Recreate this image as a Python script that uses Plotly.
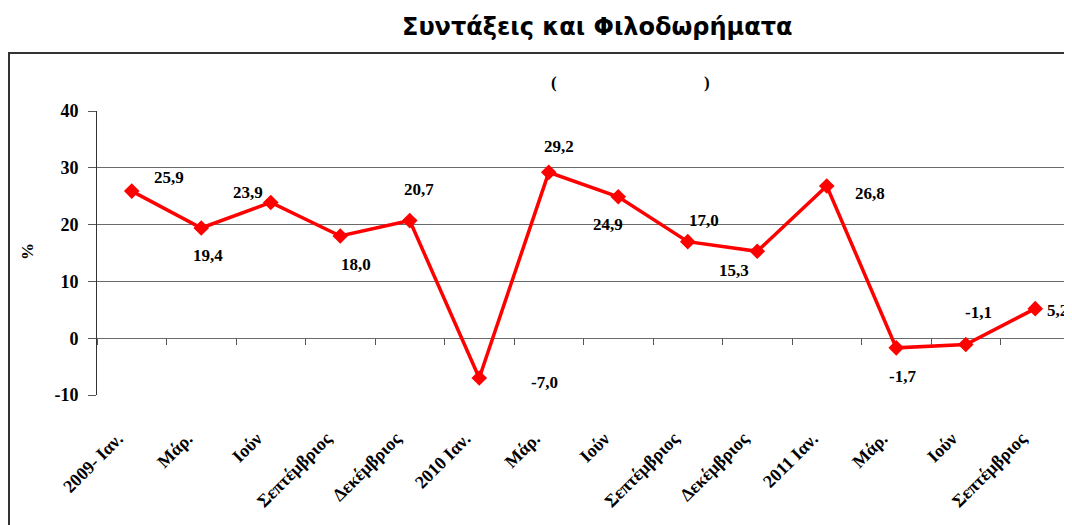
import plotly.graph_objects as go

categories = ["2009- Ιαν.", "Μάρ.", "Ιούν", "Σεπτέμβριος", "Δεκέμβριος",
              "2010 Ιαν.", "Μάρ.", "Ιούν", "Σεπτέμβριος", "Δεκέμβριος",
              "2011 Ιαν.", "Μάρ.", "Ιούν", "Σεπτέμβριος"]
values = [25.9, 19.4, 23.9, 18.0, 20.7, -7.0, 29.2, 24.9, 17.0, 15.3, 26.8, -1.7, -1.1, 5.2]
y_ticks = [-10, 0, 10, 20, 30, 40]
y_tick_text = ["-10", "0", "10", "20", "30", "40"]
title_text = "Συντάξεις και Φιλοδωρήματα"
y_title = "%"

# label offsets (pixel styling)
label_dx = [37, 7, -23, 16, 9, 65, 10, -10, 16, -23, 43, 6, 13, 22]
label_dy = [-14, 27, -10, 29, -31, 5, -26, 28, -21, 19, 8, 29, -32, 2]

idx = list(range(len(values)))
OFF = 8  # page body margin
W, H = 1072 - OFF, 525 - OFF
L, T = 97 - OFF, 111 - OFF
R = 1072 - 1070
B = 525 - 395
pw, ph = W - L - R, H - T - B

serif = "Liberation Serif"
n = len(categories)
lab_shift = 0.2  # category-label offset (styling)


def px_x(px):
    return (px - OFF - L) / pw


def px_y(py):
    return (H - B - (py - OFF)) / ph


fig = go.Figure()
fig.add_trace(go.Scatter(
    x=idx, y=values, mode="lines+markers",
    line=dict(color="#ff0000", width=3.5),
    marker=dict(symbol="diamond", size=12, color="#ff0000"),
    showlegend=False, hoverinfo="skip",
))
fig.add_trace(go.Scatter(x=[idx[0]], y=[values[0]], xaxis="x2", mode="markers",
                         marker=dict(opacity=0), showlegend=False, hoverinfo="skip"))
fig.add_trace(go.Scatter(x=[idx[0]], y=[values[0]], xaxis="x3", mode="markers",
                         marker=dict(opacity=0), showlegend=False, hoverinfo="skip"))

for i, v in enumerate(values):
    fig.add_annotation(x=i, y=v, text=f"{v:.1f}".replace(".", ","), showarrow=False,
                       xshift=label_dx[i], yshift=-label_dy[i],
                       font=dict(family=serif, size=17, color="black", weight="bold"))

fig.update_layout(
    width=W, height=H,
    margin=dict(l=L, r=R, t=T, b=B, autoexpand=False),
    paper_bgcolor="white", plot_bgcolor="white",
    xaxis=dict(
        range=[-0.5, n - 0.5], showticklabels=False, ticks="",
        showgrid=False, zeroline=False, showline=False,
    ),
    xaxis3=dict(
        overlaying="x", anchor="y", side="bottom",
        range=[-0.5 + lab_shift, n - 0.5 + lab_shift],
        tickmode="array", tickvals=idx, ticktext=categories,
        tickangle=-45, ticks="outside", ticklen=25, tickcolor="rgba(0,0,0,0)",
        showgrid=False, zeroline=False, showline=False,
        tickfont=dict(family=serif, size=18, color="black", weight="bold"),
    ),
    xaxis2=dict(
        overlaying="x", anchor="free", position=10 / 50, range=[-0.5, n - 0.5],
        tickmode="linear", tick0=0.5, dtick=1, ticks="outside", ticklen=6,
        tickcolor="#555", tickwidth=1, showticklabels=False, showgrid=False,
        zeroline=False, showline=False,
    ),
    yaxis=dict(
        range=[-10, 40], tickvals=y_ticks, ticktext=y_tick_text, ticks="outside", ticklen=8,
        ticklabelstandoff=6,
        tickcolor="#555", showgrid=True, gridcolor="#6a6a6a", gridwidth=1,
        zeroline=True, zerolinecolor="#6a6a6a", zerolinewidth=1,
        showline=True, linecolor="#333", linewidth=1,
        tickfont=dict(family=serif, size=18, color="black", weight="bold"),
    ),
)

# y-axis title
fig.add_annotation(xref="paper", yref="paper", x=px_x(27), y=px_y(252), text=y_title,
                   textangle=-90, showarrow=False, xanchor="center", yanchor="middle",
                   font=dict(family=serif, size=17, color="black", weight="bold"))

# outer chart border
fig.add_shape(type="rect", xref="paper", yref="paper",
              x0=px_x(9), x1=px_x(1100), y0=px_y(560), y1=px_y(53),
              line=dict(color="#333", width=2), fillcolor="rgba(0,0,0,0)", layer="below")

# title
fig.add_annotation(xref="paper", yref="paper", x=px_x(597), y=px_y(27),
                   text=title_text, showarrow=False, xanchor="center", yanchor="middle",
                   font=dict(family="DejaVu Sans", size=24, color="black", weight="bold"))
# subtitle parentheses
for px, t in [(554, "("), (707, ")")]:
    fig.add_annotation(xref="paper", yref="paper", x=px_x(px), y=px_y(82),
                       text=t, showarrow=False, xanchor="center", yanchor="middle",
                       font=dict(family=serif, size=17, color="black", weight="bold"))

fig.write_html("out.html")
